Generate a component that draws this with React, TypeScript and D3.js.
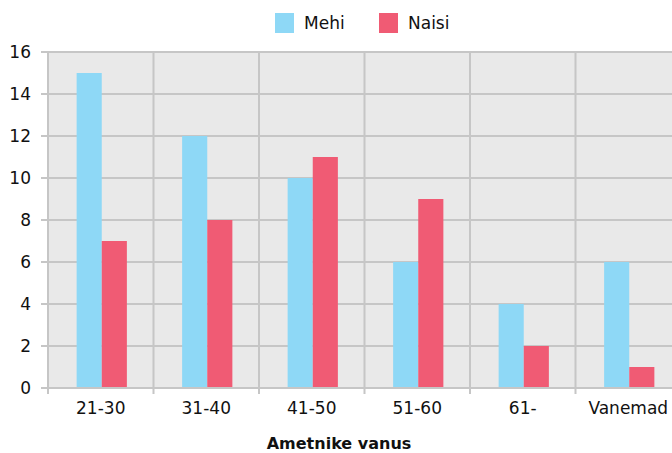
import React, {useEffect, useRef} from 'react';
import * as d3 from "d3";

const categories = ["21-30", "31-40", "41-50", "51-60", "61-", "Vanemad"];
const seriesNames = ["Mehi", "Naisi"];
const mehi = [15, 12, 10, 6, 4, 6];
const naisi = [7, 8, 11, 9, 2, 1];
const yTicks = [0, 2, 4, 6, 8, 10, 12, 14, 16];
const colors = ["#8ed8f6", "#f05b74"];

export default function App () {
  const svgRef = useRef<SVGSVGElement>(null);

  useEffect(() => {
    const width = 672, height = 453;
    const margin = { top: 52, left: 48, bottom: 65 };
    const plotRight = 681; // plot runs past the right edge, as in the picture
    const svg = d3.select(svgRef.current);
    svg.selectAll("*").remove();
    svg.attr("width", width).attr("height", height);

    const font = "DejaVu Sans, Verdana, sans-serif";

    const x = d3.scaleBand().domain(categories).range([margin.left, plotRight]).padding(0);
    const xInner = d3.scaleBand().domain(seriesNames).range([0, x.bandwidth()]).paddingInner(0).paddingOuter(1.1);
    const y = d3.scaleLinear().domain([0, 16]).range([height - margin.bottom, margin.top]);

    // background
    svg.append("rect")
      .attr("x", margin.left).attr("y", y(16))
      .attr("width", plotRight - margin.left).attr("height", y(0) - y(16))
      .attr("fill", "#e9e9e9");

    // horizontal gridlines
    svg.append("g").selectAll("line").data(yTicks).enter().append("line")
      .attr("x1", margin.left - 7).attr("x2", plotRight)
      .attr("y1", d => y(d)).attr("y2", d => y(d))
      .attr("stroke", "#c6c6c6").attr("stroke-width", 2);

    // vertical gridlines at category edges
    const edges = categories.map(c => x(c)!);
    svg.append("g").selectAll("line").data(edges).enter().append("line")
      .attr("x1", d => d).attr("x2", d => d)
      .attr("y1", y(16)).attr("y2", y(0) + 6)
      .attr("stroke", "#c6c6c6").attr("stroke-width", 2);

    // bars
    const data = categories.map((c, i) => ({c, vals: [mehi[i], naisi[i]]}));
    const groups = svg.append("g").selectAll("g").data(data).enter().append("g")
      .attr("transform", d => `translate(${x(d.c)! + 1},0)`);
    groups.selectAll("rect")
      .data(d => d.vals.map((v, j) => ({name: seriesNames[j], v, j})))
      .enter().append("rect")
      .attr("x", d => xInner(d.name)!)
      .attr("width", xInner.bandwidth())
      .attr("y", d => y(d.v))
      .attr("height", d => y(0) - y(d.v) - 1)
      .attr("fill", d => colors[d.j]);

    // y labels
    svg.append("g").selectAll("text").data(yTicks).enter().append("text")
      .attr("x", 31).attr("y", d => y(d))
      .attr("dy", "0.36em")
      .attr("text-anchor", "end")
      .style("font-family", font).style("font-size", "17px").attr("fill", "#111")
      .text(d => d);

    // x labels
    svg.append("g").selectAll("text").data(categories).enter().append("text")
      .attr("x", d => x(d)! + x.bandwidth() / 2)
      .attr("y", 414)
      .attr("text-anchor", "middle")
      .style("font-family", font).style("font-size", "17px").attr("fill", "#111")
      .text(d => d);

    // axis title
    svg.append("text")
      .attr("x", 339).attr("y", 449)
      .attr("text-anchor", "middle")
      .style("font-family", font).style("font-size", "16px").style("font-weight", "bold").attr("fill", "#111")
      .text("Ametnike vanus");

    // legend
    const legendX = [275, 379];
    seriesNames.forEach((name, i) => {
      svg.append("rect")
        .attr("x", legendX[i]).attr("y", 13).attr("width", 19).attr("height", 20)
        .attr("fill", colors[i]);
      svg.append("text")
        .attr("x", legendX[i] + 29).attr("y", 23).attr("dy", "0.36em")
        .style("font-family", font).style("font-size", "17px").attr("fill", "#111")
        .text(name);
    });
  }, []);

  return (
    <svg ref={svgRef} style={{position: "absolute", left: 0, top: 0}} />
  );
}
